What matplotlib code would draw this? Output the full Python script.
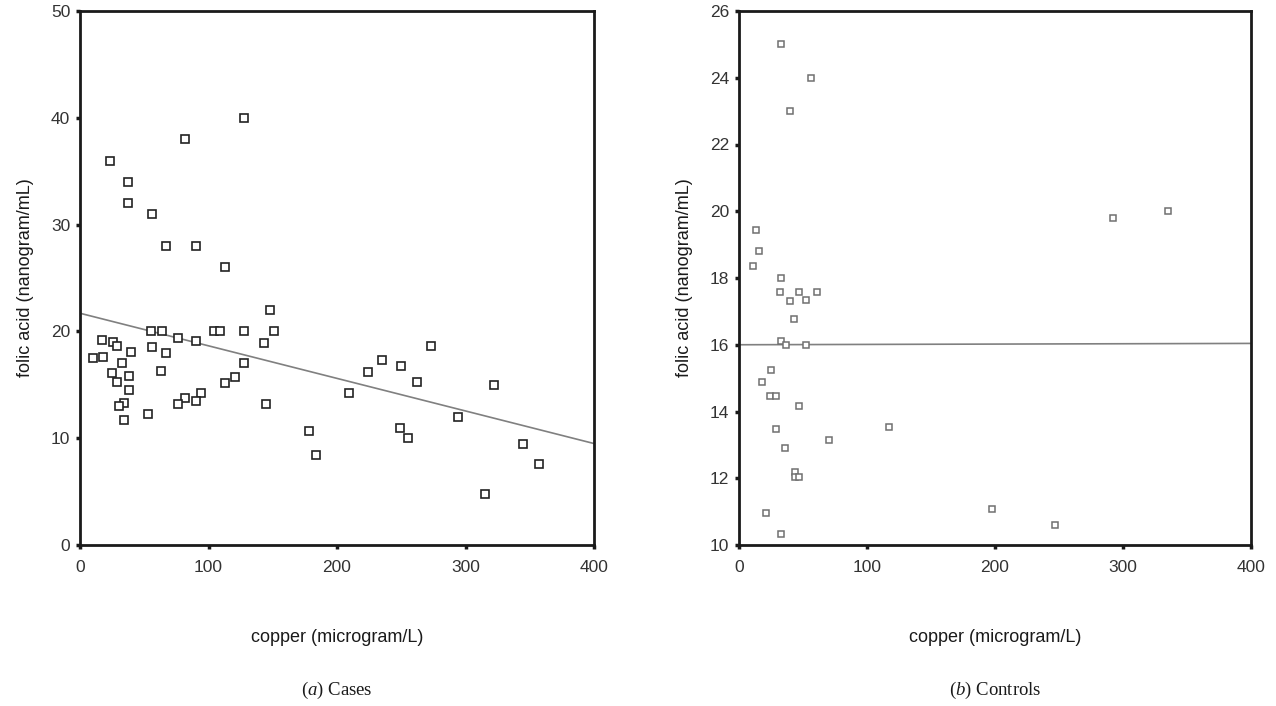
import matplotlib
matplotlib.use("Agg")
import matplotlib.pyplot as plt

# ---- data: cases ----
cases_copper = [128, 82, 23, 37, 37, 56, 67, 90, 113,
                148, 55, 64, 104, 109, 128, 151, 17, 26, 29, 76, 90, 143,
                40, 56, 67, 10, 18, 33, 128, 25, 63, 38, 29, 121, 113, 38,
                94, 82, 90, 76, 34, 30, 145, 53, 34,
                273, 235, 250, 224, 262, 322, 209, 294, 178, 249, 255, 184,
                345, 357, 315]
cases_folic = [40.0, 38.0, 36.0, 34.0, 32.0, 31.0, 28.0, 28.0, 26.0,
               22.0, 20.0, 20.0, 20.0, 20.0, 20.0, 20.0, 19.2, 19.0, 18.6, 19.4, 19.1, 18.9,
               18.1, 18.5, 18.0, 17.5, 17.6, 17.0, 17.0, 16.1, 16.3, 15.8, 15.3, 15.7, 15.2, 14.5,
               14.2, 13.8, 13.5, 13.2, 13.3, 13.0, 13.2, 12.3, 11.7,
               18.6, 17.3, 16.8, 16.2, 15.3, 15.0, 14.2, 12.0, 10.7, 11.0, 10.0, 8.4,
               9.5, 7.6, 4.75]
cases_fit_x = [0, 400]
cases_fit_y = [21.7, 9.5]

# ---- data: controls ----
ctrl_copper = [33, 56, 40, 292, 335, 13, 16, 11, 33,
               32, 47, 61, 40, 52, 43, 33, 37, 52, 25, 18, 24, 29, 47,
               29, 117, 70, 36, 44, 44, 47, 21, 198, 33, 247]
ctrl_folic = [25.0, 24.0, 23.0, 19.8, 20.0, 19.45, 18.8, 18.35, 18.0,
              17.57, 17.57, 17.57, 17.3, 17.35, 16.78, 16.1, 16.0, 16.0, 15.25, 14.88, 14.45, 14.45, 14.17,
              13.48, 13.53, 13.16, 12.9, 12.2, 12.04, 12.04, 10.95, 11.08, 10.34, 10.6]
ctrl_fit_x = [0, 400]
ctrl_fit_y = [16.0, 16.04]

x_ticks = [0, 100, 200, 300, 400]
cases_y_ticks = [0, 10, 20, 30, 40, 50]
ctrl_y_ticks = [10, 12, 14, 16, 18, 20, 22, 24, 26]

xlabel = "copper (microgram/L)"
ylabel = "folic acid (nanogram/mL)"

plt.rcParams['font.family'] = ['Liberation Sans', 'DejaVu Sans']
plt.rcParams['mathtext.fontset'] = 'custom'
plt.rcParams['mathtext.rm'] = 'Liberation Serif'
plt.rcParams['mathtext.it'] = 'Liberation Serif:italic'

fig = plt.figure(figsize=(12.76, 7.06), dpi=100)
W, H = 1276, 706

def make_ax(left_px, right_px, top_px, bottom_px):
    return fig.add_axes([left_px / W, 1 - bottom_px / H,
                         (right_px - left_px) / W, (bottom_px - top_px) / H])

axL = make_ax(80, 594, 11, 545)
axR = make_ax(739, 1251, 11, 545)

def style(ax, yticks, ylim):
    ax.set_xlim(0, 400)
    ax.set_ylim(*ylim)
    ax.set_xticks(x_ticks)
    ax.set_yticks(yticks)
    for s in ax.spines.values():
        s.set_linewidth(2.0)
        s.set_color('#1a1a1a')
    ax.tick_params(direction='out', length=3, width=2.5, color='#1a1a1a',
                   labelsize=12.5, labelcolor='#333333')
    ax.tick_params(axis='x', pad=8)
    ax.tick_params(axis='y', pad=4)
    ax.set_xlabel(xlabel, fontsize=13, color='#1a1a1a', labelpad=39)
    ax.set_ylabel(ylabel, fontsize=13, color='#1a1a1a', labelpad=12)

style(axL, cases_y_ticks, (0, 50))
style(axR, ctrl_y_ticks, (10, 26))

axL.plot(cases_fit_x, cases_fit_y, color='#808080', lw=1.2, zorder=2)
axL.plot(cases_copper, cases_folic, linestyle='none', marker='s', markersize=5.2,
         markerfacecolor='white', markeredgecolor='#222222', markeredgewidth=1.2, zorder=3,
         clip_on=False)

axR.plot(ctrl_fit_x, ctrl_fit_y, color='#808080', lw=1.2, zorder=2)
axR.plot(ctrl_copper, ctrl_folic, linestyle='none', marker='s', markersize=4.8,
         markerfacecolor='white', markeredgecolor='#707070', markeredgewidth=1.1, zorder=3,
         clip_on=False)

serif = ['Liberation Serif', 'DejaVu Serif']
fig.text(337 / W, 1 - 690 / H, r"($\mathit{a}$) Cases", ha='center', va='center',
         fontsize=13.5, family=serif, color='#1a1a1a')
fig.text(995 / W, 1 - 690 / H, r"($\mathit{b}$) Controls", ha='center', va='center',
         fontsize=13.5, family=serif, color='#1a1a1a')

fig.savefig("out.png", dpi=100)
